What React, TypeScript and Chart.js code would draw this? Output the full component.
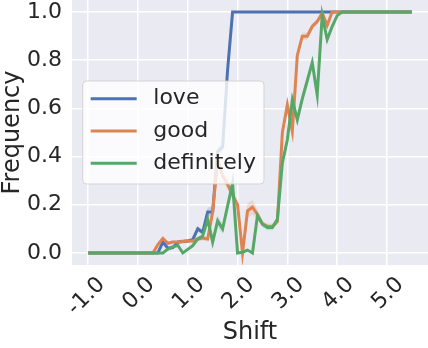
import React, { useEffect, useRef } from "react";
import { Chart, registerables } from "chart.js";

Chart.register(...registerables);

const shift = [
  -1.0, -0.9, -0.8, -0.7, -0.6, -0.5, -0.4, -0.3, -0.2, -0.1,
  0.0, 0.1, 0.2, 0.3, 0.4, 0.5, 0.6, 0.7, 0.8, 0.9,
  1.0, 1.1, 1.2, 1.3, 1.4, 1.5, 1.6, 1.7, 1.8, 1.9,
  2.0, 2.1, 2.2, 2.3, 2.4, 2.5, 2.6, 2.7, 2.8, 2.9,
  3.0, 3.1, 3.2, 3.3, 3.4, 3.5, 3.6, 3.7, 3.8, 3.9,
  4.0, 4.1, 4.2, 4.3, 4.4, 4.5, 4.6, 4.7, 4.8, 4.9,
  5.0, 5.1, 5.2, 5.3, 5.4, 5.5,
];

const love = [
  0, 0, 0, 0, 0, 0, 0, 0, 0, 0,
  0, 0, 0, 0, 0, 0.045, 0.02, 0.022, 0.045, 0.048,
  0.05, 0.055, 0.1, 0.085, 0.17, 0.17, 0.42, 0.44, 0.76, 1.0,
  1, 1, 1, 1, 1, 1, 1, 1, 1, 1,
  1, 1, 1, 1, 1, 1, 1, 1, 1, 1,
  1, 1, 1, 1, 1, 1, 1, 1, 1, 1,
  1, 1, 1, 1, 1, 1,
];

const good = [
  0, 0, 0, 0, 0, 0, 0, 0, 0, 0,
  0, 0, 0, 0, 0.035, 0.06, 0.04, 0.045, 0.045, 0.048,
  0.05, 0.05, 0.058, 0.062, 0.058, 0.17, 0.39, 0.32, 0.285, 0.24,
  0.2, 0.0, 0.175, 0.19, 0.16, 0.12, 0.11, 0.11, 0.13, 0.5,
  0.615, 0.505, 0.82, 0.9, 0.9, 0.94, 0.96, 0.996, 0.945, 1.0,
  1, 1, 1, 1, 1, 1, 1, 1, 1, 1,
  1, 1, 1, 1, 1, 1,
];

const definitely = [
  0, 0, 0, 0, 0, 0, 0, 0, 0, 0,
  0, 0, 0, 0, 0, 0, 0.016, 0.025, 0.032, 0.0,
  0.015, 0.03, 0.058, 0.07, 0.14, 0.045, 0.133, 0.1, 0.195, 0.29,
  0.0, 0.003, 0.012, 0.0, 0.155, 0.12, 0.106, 0.106, 0.14, 0.374,
  0.47, 0.635, 0.553, 0.64, 0.715, 0.79, 0.656, 0.986, 0.886, 0.94,
  0.985, 1, 1, 1, 1, 1, 1, 1, 1, 1,
  1, 1, 1, 1, 1, 1,
];

// confidence band half-widths
const loveErr = [
  0, 0, 0, 0, 0, 0, 0, 0, 0, 0,
  0, 0, 0, 0, 0, 0.01, 0.008, 0.008, 0.008, 0.008,
  0.008, 0.008, 0.012, 0.012, 0.02, 0.02, 0.02, 0.02, 0.015, 0,
  0, 0, 0, 0, 0, 0, 0, 0, 0, 0,
  0, 0, 0, 0, 0, 0, 0, 0, 0, 0,
  0, 0, 0, 0, 0, 0, 0, 0, 0, 0,
  0, 0, 0, 0, 0, 0,
];

const goodErr = [
  0, 0, 0, 0, 0, 0, 0, 0, 0, 0,
  0, 0, 0, 0, 0.008, 0.01, 0.008, 0.008, 0.008, 0.008,
  0.008, 0.008, 0.01, 0.01, 0.01, 0.015, 0.02, 0.02, 0.02, 0.02,
  0.02, 0.005, 0.03, 0.03, 0.02, 0.012, 0.012, 0.012, 0.012, 0.02,
  0.02, 0.03, 0.02, 0.015, 0.015, 0.012, 0.012, 0.004, 0.012, 0,
  0, 0, 0, 0, 0, 0, 0, 0, 0, 0,
  0, 0, 0, 0, 0, 0,
];

const definitelyErr = [
  0, 0, 0, 0, 0, 0, 0, 0, 0, 0,
  0, 0, 0, 0, 0, 0, 0.008, 0.008, 0.008, 0.004,
  0.008, 0.008, 0.008, 0.008, 0.025, 0.02, 0.025, 0.02, 0.02, 0.02,
  0.005, 0.005, 0.005, 0.005, 0.015, 0.012, 0.012, 0.012, 0.012, 0.02,
  0.02, 0.025, 0.025, 0.025, 0.025, 0.025, 0.025, 0.01, 0.015, 0.012,
  0.005, 0, 0, 0, 0, 0, 0, 0, 0, 0,
  0, 0, 0, 0, 0, 0,
];

const seriesNames = ["love", "good", "definitely"];
const seriesColors = ["#4C72B0", "#DD8452", "#55A868"];
const bandColors = ["rgba(76,114,176,0.2)", "rgba(221,132,82,0.2)", "rgba(85,168,104,0.2)"];

const xTickValues = [-1, 0, 1, 2, 3, 4, 5];
const xTickLabels = ["-1.0", "0.0", "1.0", "2.0", "3.0", "4.0", "5.0"];
const yTickValues = [0, 0.2, 0.4, 0.6, 0.8, 1.0];
const yTickLabels = ["0.0", "0.2", "0.4", "0.6", "0.8", "1.0"];

const FONT = "DejaVu Sans";
const TEXT = "#262626";

const bgPlugin = {
  id: "bgPlugin",
  beforeDraw(chart: any) {
    const { ctx, chartArea } = chart;
    ctx.save();
    ctx.fillStyle = "#EAEAF2";
    ctx.fillRect(chartArea.left, chartArea.top, chartArea.right - chartArea.left, chartArea.bottom - chartArea.top);
    ctx.restore();
  },
};

const legendPlugin = {
  id: "customLegend",
  afterDraw(chart: any) {
    const { ctx, chartArea } = chart;
    const bx = chartArea.left + 10.7;
    const by = chartArea.top + 81;
    const bw = 181.3;
    const bh = 103;
    ctx.save();
    ctx.beginPath();
    if ((ctx as any).roundRect) {
      (ctx as any).roundRect(bx, by, bw, bh, 4);
    } else {
      ctx.rect(bx, by, bw, bh);
    }
    ctx.fillStyle = "rgba(255,255,255,0.8)";
    ctx.fill();
    ctx.strokeStyle = "rgba(204,204,204,0.8)";
    ctx.lineWidth = 1;
    ctx.stroke();
    ctx.font = `22px "${FONT}"`;
    ctx.textBaseline = "middle";
    ctx.textAlign = "left";
    seriesNames.forEach((name, i) => {
      const y = by + 17.7 + i * 32.3;
      ctx.beginPath();
      ctx.moveTo(bx + 8, y);
      ctx.lineTo(bx + 54, y);
      ctx.strokeStyle = seriesColors[i];
      ctx.lineWidth = 3;
      ctx.lineCap = "butt";
      ctx.stroke();
      ctx.fillStyle = TEXT;
      ctx.fillText(name, bx + 70.6, y);
    });
    ctx.restore();
  },
};

export default function App() {
  const canvasRef = useRef<HTMLCanvasElement | null>(null);

  useEffect(() => {
    document.body.style.margin = "0";
    const canvas = canvasRef.current;
    if (!canvas) return;
    const all = [love, good, definitely];
    const errs = [loveErr, goodErr, definitelyErr];

    const lineSets = all.map((vals, s) => ({
      label: seriesNames[s],
      data: shift.map((x, i) => ({ x, y: vals[i] })),
      borderColor: seriesColors[s],
      backgroundColor: seriesColors[s],
      borderWidth: 3,
      pointRadius: 0,
      fill: false,
      order: 2 - s,
    }));

    const bandSets: any[] = [];
    all.forEach((vals, s) => {
      bandSets.push({
        label: seriesNames[s] + "-hi",
        data: shift.map((x, i) => ({ x, y: Math.min(1, vals[i] + errs[s][i]) })),
        borderWidth: 0,
        borderColor: "rgba(0,0,0,0)",
        backgroundColor: bandColors[s],
        pointRadius: 0,
        fill: "+1",
        order: 10 + (2 - s),
      });
      bandSets.push({
        label: seriesNames[s] + "-lo",
        data: shift.map((x, i) => ({ x, y: Math.max(0, vals[i] - errs[s][i]) })),
        borderWidth: 0,
        borderColor: "rgba(0,0,0,0)",
        backgroundColor: "rgba(0,0,0,0)",
        pointRadius: 0,
        fill: false,
        order: 10 + (2 - s),
      });
    });

    const chart = new Chart(canvas, {
      type: "line",
      data: { datasets: [...bandSets, ...lineSets] as any },
      options: {
        animation: false,
        responsive: false,
        maintainAspectRatio: false,
        layout: { padding: 0 },
        plugins: {
          legend: { display: false },
          tooltip: { enabled: false },
        },
        elements: { line: { tension: 0 }, point: { radius: 0 } },
        scales: {
          x: {
            type: "linear",
            min: -1.325,
            max: 5.825,
            afterBuildTicks: (s: any) => {
              s.ticks = xTickValues.map((v) => ({ value: v }));
            },
            afterFit: (s: any) => {
              s.height = 83;
              s.paddingLeft = 0;
              s.paddingRight = 0;
            },
            grid: { color: "#ffffff", lineWidth: 1.5, drawTicks: false },
            border: { display: false },
            ticks: {
              autoSkip: false,
              minRotation: 45,
              maxRotation: 45,
              padding: 7,
              labelOffset: 13.5,
              color: TEXT,
              font: { family: FONT, size: 22 },
              callback: (_v: any, i: number) => xTickLabels[i],
            },
            title: {
              display: true,
              text: "Shift",
              color: TEXT,
              font: { family: FONT, size: 24 },
              padding: { top: 0, bottom: 1 },
            },
          },
          y: {
            type: "linear",
            min: -0.05,
            max: 1.05,
            afterBuildTicks: (s: any) => {
              s.ticks = yTickValues.map((v) => ({ value: v }));
            },
            afterFit: (s: any) => {
              s.width = 72;
              s.paddingTop = 0;
              s.paddingBottom = 0;
            },
            grid: { color: "#ffffff", lineWidth: 1.5, drawTicks: false },
            border: { display: false },
            ticks: {
              padding: 10,
              color: TEXT,
              font: { family: FONT, size: 22 },
              callback: (_v: any, i: number) => yTickLabels[i],
            },
            title: {
              display: true,
              text: "Frequency",
              color: TEXT,
              font: { family: FONT, size: 24 },
              padding: { top: -2, bottom: 0 },
            },
          },
        },
      },
      plugins: [bgPlugin, legendPlugin],
    });

    return () => {
      chart.destroy();
    };
  }, []);

  return (
    <div style={{ position: "fixed", left: 0, top: 0, width: 428, height: 348, background: "#ffffff" }}>
      <canvas ref={canvasRef} width={428} height={348} style={{ display: "block", width: 428, height: 348 }} />
    </div>
  );
}
